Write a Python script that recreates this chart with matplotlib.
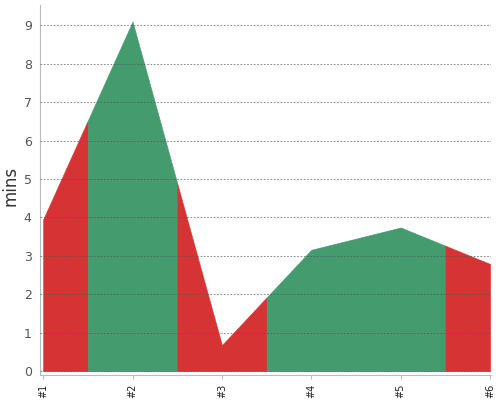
import matplotlib
matplotlib.use('Agg')
import matplotlib.pyplot as plt
import numpy as np

labels = ['#1', '#2', '#3', '#4', '#5', '#6']
mins = [3.95, 9.1, 0.68, 3.16, 3.74, 2.79]
status = ['bad', 'good', 'bad', 'good', 'good', 'bad']

colors = {'good': '#449b6e', 'bad': '#d63434'}

x = np.arange(1, len(mins) + 1)

fig = plt.figure(figsize=(5, 4), dpi=100)
ax = fig.add_axes([0.08, 0.0625, 0.902, 0.925])

# group neighbouring points with the same status, each owning half-way spans
runs = []
for i, s in enumerate(status):
    if runs and runs[-1][0] == s:
        runs[-1][2] = i
    else:
        runs.append([s, i, i])

for s, a, b in runs:
    lo = max(x[a] - 0.5, x[0])
    hi = min(x[b] + 0.5, x[-1])
    xs = [lo] + list(x[a:b + 1]) + [hi]
    ys = np.interp(xs, x, mins)
    ax.fill_between(xs, 0, ys, facecolor=colors[s], edgecolor=colors[s],
                    linewidth=0.4, zorder=1)

ax.set_xlim(x[0] - 0.035, x[-1] + 0.01)
ax.set_ylim(-0.1, 9.53)
ax.set_yticks(range(0, 10))
ax.set_xticks(x)
ax.set_xticklabels(labels, rotation=90, fontsize=7, color='#222222')
ax.tick_params(axis='y', length=0, labelsize=9, labelcolor='#555555', pad=6)
ax.tick_params(axis='x', length=3, color='#bbbbbb', pad=3)

ax.grid(axis='y', linestyle=(0, (2, 2)), color='#555555', linewidth=0.6, alpha=0.8, zorder=2)
ax.set_axisbelow(False)

for side in ['top', 'right']:
    ax.spines[side].set_visible(False)
for side in ['left', 'bottom']:
    ax.spines[side].set_color('#bbbbbb')

ax.set_ylabel('mins', fontsize=12, color='#333333')
ax.yaxis.set_label_coords(-0.045, 0.51)

fig.savefig('out.png', dpi=100)
